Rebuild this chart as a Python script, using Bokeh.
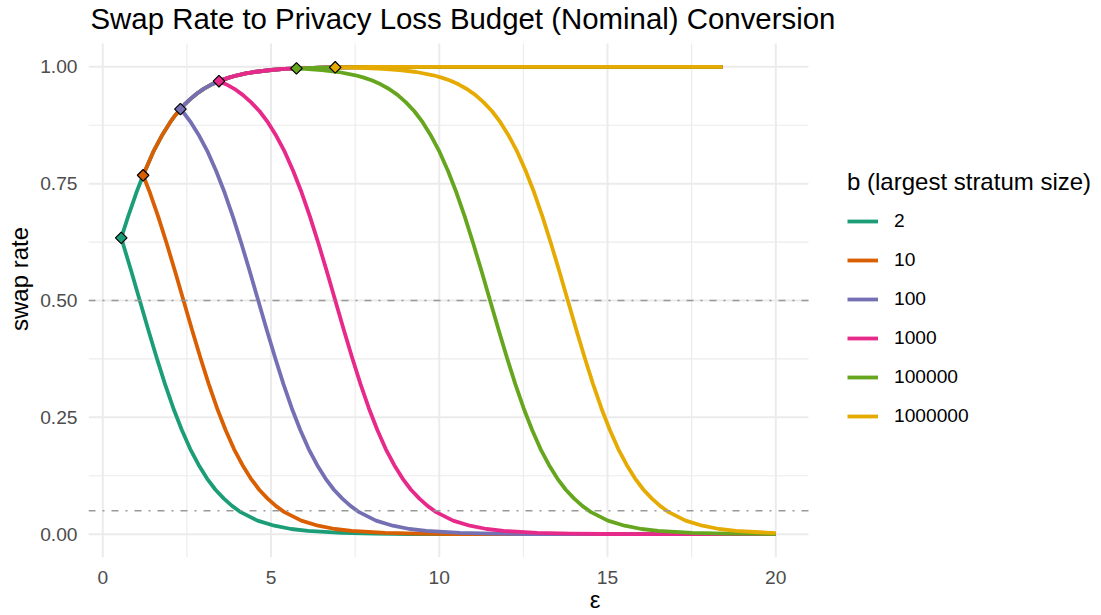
import numpy as np
from bokeh.plotting import figure
from bokeh.models import Range1d, FixedTicker, PrintfTickFormatter, Legend, LegendItem, Label
from bokeh.embed import file_html
from bokeh.resources import INLINE

# ---------------- data ----------------
b_labels = ["2", "10", "100", "1000", "100000", "1000000"]
colors = ["#1B9E77", "#D95F02", "#7570B3", "#E7298A", "#66A61E", "#E6AB02"]

# start point (minimum epsilon) of each curve
diamond_eps = [0.549, 1.199, 2.308, 3.454, 5.756, 6.908]
diamond_rate = [0.634, 0.768, 0.9095, 0.9694, 0.9968, 0.999]

# upper (rising) branch shared by all curves
rise_eps = [0.549, 0.75, 1.0, 1.199, 1.5, 1.75, 2.0, 2.15, 2.308, 2.45, 2.6, 2.8,
            3.0, 3.25, 3.454, 3.75, 4.0, 4.25, 4.5, 5.0, 5.4, 5.756, 6.5, 6.908,
            8.0, 10.0, 18.42]
rise_rate = [0.634, 0.679, 0.731, 0.768, 0.818, 0.852, 0.881, 0.896, 0.9095, 0.921,
             0.931, 0.943, 0.953, 0.963, 0.9694, 0.977, 0.982, 0.986, 0.989, 0.9933,
             0.9955, 0.9968, 0.9985, 0.999, 0.9997, 0.99995, 1.0]

# lower (falling) branches
fall_eps_2 = [0.549, 0.60, 0.85, 1.10, 1.35, 1.60, 1.85, 2.10, 2.35, 2.60, 2.85, 3.10,
              3.35, 3.60, 3.85, 4.10, 4.60, 5.10, 5.60, 6.10, 7.10, 8.10, 9.10, 11.10, 20.0]
fall_rate_2 = [0.634, 0.622, 0.562, 0.500, 0.438, 0.378, 0.321, 0.269, 0.223, 0.182, 0.148,
               0.119, 0.095, 0.076, 0.060, 0.047, 0.029, 0.018, 0.011, 0.007, 0.0025,
               0.0009, 0.0003, 0.00005, 0.0]

fall_eps_10 = [1.199, 1.40, 1.65, 1.90, 2.15, 2.40, 2.65, 2.90, 3.15, 3.40, 3.65, 3.90,
               4.15, 4.40, 4.65, 4.90, 5.15, 5.40, 5.90, 6.40, 6.90, 7.40, 8.40, 9.40,
               10.40, 12.40, 20.0]
fall_rate_10 = [0.768, 0.731, 0.679, 0.622, 0.562, 0.500, 0.438, 0.378, 0.321, 0.269,
                0.223, 0.182, 0.148, 0.119, 0.095, 0.076, 0.060, 0.047, 0.029, 0.018,
                0.011, 0.007, 0.0025, 0.0009, 0.0003, 0.00005, 0.0]

fall_eps_100 = [2.308, 2.37, 2.62, 2.87, 3.12, 3.37, 3.62, 3.87, 4.12, 4.37, 4.62, 4.87,
                5.12, 5.37, 5.62, 5.87, 6.12, 6.37, 6.62, 6.87, 7.12, 7.37, 7.62, 8.12,
                8.62, 9.12, 9.62, 10.62, 11.62, 12.62, 14.62, 20.0]
fall_rate_100 = [0.9095, 0.905, 0.881, 0.852, 0.818, 0.777, 0.731, 0.679, 0.622, 0.562,
                 0.500, 0.438, 0.378, 0.321, 0.269, 0.223, 0.182, 0.148, 0.119, 0.095,
                 0.076, 0.060, 0.047, 0.029, 0.018, 0.011, 0.007, 0.0025, 0.0009,
                 0.0003, 0.00005, 0.0]

fall_eps_1000 = [3.454, 3.66, 3.91, 4.16, 4.41, 4.66, 4.91, 5.16, 5.41, 5.66, 5.91, 6.16,
                 6.41, 6.66, 6.91, 7.16, 7.41, 7.66, 7.91, 8.16, 8.41, 8.66, 8.91, 9.16,
                 9.41, 9.66, 9.91, 10.41, 10.91, 11.41, 11.91, 12.91, 13.91, 14.91,
                 16.91, 20.0]
fall_rate_1000 = [0.9694, 0.963, 0.953, 0.940, 0.924, 0.905, 0.881, 0.852, 0.818, 0.777,
                  0.731, 0.679, 0.622, 0.562, 0.500, 0.438, 0.378, 0.321, 0.269, 0.223,
                  0.182, 0.148, 0.119, 0.095, 0.076, 0.060, 0.047, 0.029, 0.018, 0.011,
                  0.007, 0.0025, 0.0009, 0.0003, 0.00005, 0.0]

fall_eps_100000 = [5.756, 6.01, 6.51, 7.01, 7.51, 7.76, 8.01, 8.26, 8.51, 8.76, 9.01,
                   9.26, 9.51, 9.76, 10.01, 10.26, 10.51, 10.76, 11.01, 11.26, 11.51,
                   11.76, 12.01, 12.26, 12.51, 12.76, 13.01, 13.26, 13.51, 13.76, 14.01,
                   14.26, 14.51, 15.01, 15.51, 16.01, 16.51, 17.51, 18.51, 20.0]
fall_rate_100000 = [0.9968, 0.9959, 0.9933, 0.989, 0.982, 0.977, 0.9707, 0.9627, 0.9526,
                    0.940, 0.924, 0.905, 0.881, 0.852, 0.818, 0.777, 0.731, 0.679, 0.622,
                    0.562, 0.500, 0.438, 0.378, 0.321, 0.269, 0.223, 0.182, 0.148, 0.119,
                    0.095, 0.076, 0.060, 0.047, 0.029, 0.018, 0.011, 0.007, 0.0025,
                    0.0009, 0.0002]

fall_eps_1000000 = [6.908, 7.32, 7.82, 8.32, 8.82, 9.32, 9.82, 10.07, 10.32, 10.57, 10.82,
                    11.07, 11.32, 11.57, 11.82, 12.07, 12.32, 12.57, 12.82, 13.07, 13.32,
                    13.57, 13.82, 14.07, 14.32, 14.57, 14.82, 15.07, 15.32, 15.57, 15.82,
                    16.07, 16.32, 16.57, 16.82, 17.32, 17.82, 18.32, 18.82, 20.0]
fall_rate_1000000 = [0.999, 0.9985, 0.9975, 0.9959, 0.9933, 0.989, 0.982, 0.977, 0.9707,
                     0.9627, 0.9526, 0.940, 0.924, 0.905, 0.881, 0.852, 0.818, 0.777,
                     0.731, 0.679, 0.622, 0.562, 0.500, 0.438, 0.378, 0.321, 0.269,
                     0.223, 0.182, 0.148, 0.119, 0.095, 0.076, 0.060, 0.047, 0.029,
                     0.018, 0.011, 0.007, 0.002]

fall_eps = [fall_eps_2, fall_eps_10, fall_eps_100, fall_eps_1000, fall_eps_100000, fall_eps_1000000]
fall_rate = [fall_rate_2, fall_rate_10, fall_rate_100, fall_rate_1000, fall_rate_100000, fall_rate_1000000]

reference_rates = [0.5, 0.05]

x_ticks = [0, 5, 10, 15, 20]
x_minor = [2.5, 7.5, 12.5, 17.5]
y_ticks = [0.0, 0.25, 0.5, 0.75, 1.0]
y_minor = [0.125, 0.375, 0.625, 0.875]

title_text = "Swap Rate to Privacy Loss Budget (Nominal) Conversion"

# ---------------- layout ----------------
FONT = "Liberation Sans"
W, H = 1101, 615
PANEL_L, PANEL_R, PANEL_T, PANEL_B = 88, 808, 43, 557      # data panel in pixels
x_lo, x_hi = -0.4236, 20.9726                             # panel extent (data)
y_lo, y_hi = -0.05, 1.05

# the plotting frame extends to the right and top edges so that the legend and
# the title (drawn inside the frame) are not clipped; the data panel keeps its place
x_px = (x_hi - x_lo) / (PANEL_R - PANEL_L)
y_px = (y_hi - y_lo) / (PANEL_B - PANEL_T)
x_end = x_lo + (W - PANEL_L) * x_px
y_end = y_lo + PANEL_B * y_px

p = figure(width=W, height=H,
           x_range=Range1d(x_lo, x_end), y_range=Range1d(y_lo, y_end),
           output_backend="svg", toolbar_location=None,
           min_border_left=PANEL_L, min_border_right=0, min_border_top=0,
           min_border_bottom=H - PANEL_B)

p.outline_line_color = None
p.background_fill_color = "white"
p.border_fill_color = "white"
p.xgrid.visible = False
p.ygrid.visible = False

p.xaxis.ticker = FixedTicker(ticks=x_ticks, minor_ticks=x_minor)
p.yaxis.ticker = FixedTicker(ticks=y_ticks, minor_ticks=y_minor)
p.yaxis.formatter = PrintfTickFormatter(format="%.2f")
p.xaxis.bounds = (x_lo, x_hi)
p.yaxis.bounds = (y_lo, y_hi)

for ax in (p.xaxis[0], p.yaxis[0]):
    ax.axis_line_color = None
    ax.major_tick_line_color = None
    ax.minor_tick_line_color = None
    ax.major_tick_out = 0
    ax.major_tick_in = 0
    ax.minor_tick_out = 0
    ax.minor_tick_in = 0
    ax.major_label_text_font = FONT
    ax.major_label_text_font_size = "19.2px"
    ax.major_label_text_color = "#4D4D4D"
    ax.axis_label_text_font = FONT
    ax.axis_label_text_font_size = "24px"
    ax.axis_label_text_font_style = "normal"
    ax.axis_label_text_color = "#000000"

p.xaxis.axis_label = "ε"
p.yaxis.axis_label = "swap rate"
p.xaxis.major_label_standoff = 13
p.xaxis.axis_label_standoff = -1
p.yaxis.major_label_standoff = 11
p.yaxis.axis_label_standoff = 4

# ---------------- grid (bounded to the data panel) ----------------
GRID = "#EBEBEB"
p.segment(x0=x_ticks, x1=x_ticks, y0=[y_lo] * len(x_ticks), y1=[y_hi] * len(x_ticks),
          line_color=GRID, line_width=2)
p.segment(x0=x_minor, x1=x_minor, y0=[y_lo] * len(x_minor), y1=[y_hi] * len(x_minor),
          line_color=GRID, line_width=1.1)
p.segment(x0=[x_lo] * len(y_ticks), x1=[x_hi] * len(y_ticks), y0=y_ticks, y1=y_ticks,
          line_color=GRID, line_width=2)
p.segment(x0=[x_lo] * len(y_minor), x1=[x_hi] * len(y_minor), y0=y_minor, y1=y_minor,
          line_color=GRID, line_width=1.1)

# ---------------- curves ----------------
items = []
for i in range(len(b_labels)):
    d = diamond_eps[i]
    r_x = [x for x in rise_eps if x >= d - 1e-9]
    r_y = [y for x, y in zip(rise_eps, rise_rate) if x >= d - 1e-9]
    xs = r_x[::-1] + fall_eps[i][1:]
    ys = r_y[::-1] + fall_rate[i][1:]
    r = p.line(xs, ys, line_color=colors[i], line_width=3.8, line_join="round")
    items.append(LegendItem(label=b_labels[i], renderers=[r]))

p.scatter(diamond_eps, diamond_rate, marker="square", angle=np.pi / 4, size=8.2,
          fill_color=colors, line_color="black", line_width=1.2)

# dot-dash reference lines
p.segment(x0=[x_lo] * len(reference_rates), x1=[x_hi] * len(reference_rates),
          y0=reference_rates, y1=reference_rates,
          line_color="#999999", line_width=1.7, line_dash="7 7 2 7")

# ---------------- title ----------------
p.add_layout(Label(x=2, y=PANEL_B - 18, x_units="screen", y_units="screen",
                   text=title_text, text_font=FONT, text_font_size="29.4px",
                   text_color="#000000", text_baseline="alphabetic", text_align="left"))

# ---------------- legend ----------------
legend = Legend(items=items, location=(759, 130), title="b (largest stratum size)")
legend.title_text_font = FONT
legend.title_text_font_size = "24px"
legend.title_text_font_style = "normal"
legend.title_text_color = "#000000"
legend.title_standoff = 14
legend.label_text_font = FONT
legend.label_text_font_size = "19.2px"
legend.label_text_color = "#000000"
legend.glyph_width = 31
legend.glyph_height = 22
legend.label_height = 22
legend.label_standoff = 16
legend.spacing = 17
legend.padding = 0
legend.margin = 0
legend.border_line_color = None
legend.background_fill_alpha = 0
p.add_layout(legend)

open("out.html", "w").write(file_html(p, INLINE))
